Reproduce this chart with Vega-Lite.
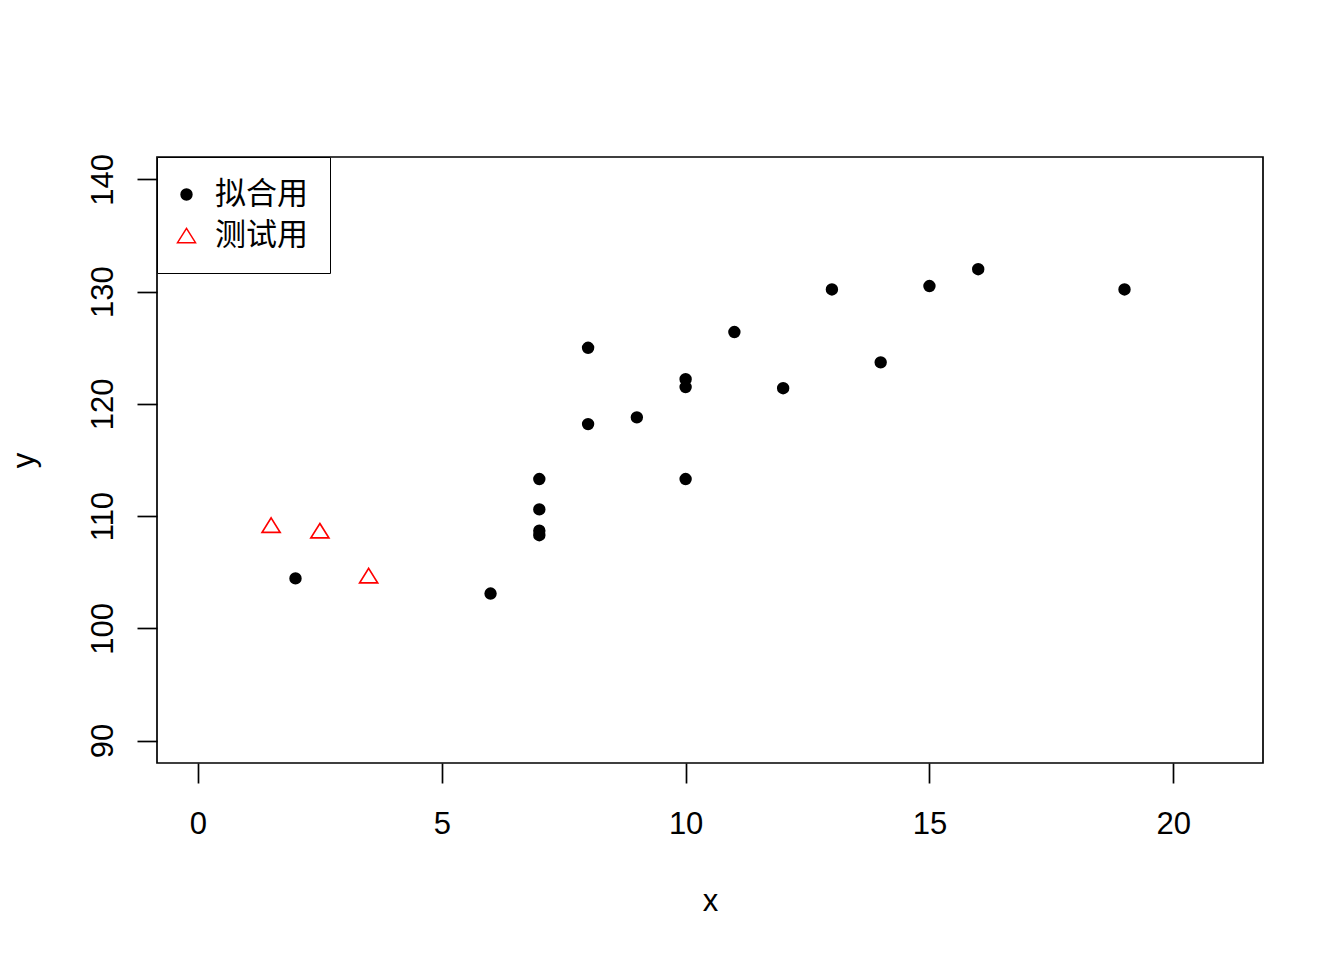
{
  "$schema": "https://vega.github.io/schema/vega-lite/v6.json",
  "width": 1106,
  "height": 606,
  "autosize": {"type": "none"},
  "padding": {"left": 157, "top": 157, "right": 81, "bottom": 197},
  "background": "white",
  "config": {
    "view": {"stroke": "black", "strokeWidth": 1.7},
    "axis": {
      "domain": false,
      "grid": false,
      "tickColor": "black",
      "tickWidth": 1.7,
      "tickSize": 20,
      "labelFont": "Liberation Sans",
      "labelFontSize": 31,
      "labelColor": "black",
      "titleFont": "Liberation Sans",
      "titleFontSize": 31,
      "titleFontWeight": "normal",
      "titleColor": "black"
    }
  },
  "data": {
    "values": [
      {"x": 2, "y": 104.45, "g": "拟合用"},
      {"x": 6, "y": 103.1, "g": "拟合用"},
      {"x": 7, "y": 113.3, "g": "拟合用"},
      {"x": 7, "y": 110.6, "g": "拟合用"},
      {"x": 7, "y": 108.7, "g": "拟合用"},
      {"x": 7, "y": 108.3, "g": "拟合用"},
      {"x": 8, "y": 125.0, "g": "拟合用"},
      {"x": 8, "y": 118.2, "g": "拟合用"},
      {"x": 9, "y": 118.8, "g": "拟合用"},
      {"x": 10, "y": 122.2, "g": "拟合用"},
      {"x": 10, "y": 121.5, "g": "拟合用"},
      {"x": 10, "y": 113.3, "g": "拟合用"},
      {"x": 11, "y": 126.4, "g": "拟合用"},
      {"x": 12, "y": 121.4, "g": "拟合用"},
      {"x": 13, "y": 130.2, "g": "拟合用"},
      {"x": 14, "y": 123.7, "g": "拟合用"},
      {"x": 15, "y": 130.5, "g": "拟合用"},
      {"x": 16, "y": 132.0, "g": "拟合用"},
      {"x": 19, "y": 130.2, "g": "拟合用"},
      {"x": 1.5, "y": 109.2, "g": "测试用"},
      {"x": 2.5, "y": 108.7, "g": "测试用"},
      {"x": 3.5, "y": 104.7, "g": "测试用"}
    ]
  },
  "mark": {"type": "point", "strokeWidth": 1.7, "opacity": 1, "clip": true},
  "encoding": {
    "x": {
      "field": "x",
      "type": "quantitative",
      "scale": {"domain": [-0.84, 21.84], "nice": false, "zero": false},
      "axis": {"values": [0, 5, 10, 15, 20], "labelPadding": 26, "titlePadding": 47, "title": "x"}
    },
    "y": {
      "field": "y",
      "type": "quantitative",
      "scale": {"domain": [88, 142], "nice": false, "zero": false},
      "axis": {"values": [90, 100, 110, 120, 130, 140], "labelAngle": 270, "labelPadding": 18, "titlePadding": 47, "title": "y"}
    },
    "shape": {
      "field": "g",
      "type": "nominal",
      "scale": {"domain": ["拟合用", "测试用"], "range": ["circle", "M0,-0.8L1,0.8L-1,0.8Z"]},
      "legend": {
        "title": null,
        "orient": "top-left",
        "offset": 0,
        "padding": 22,
        "strokeColor": "black",
        "fillColor": "white",
        "labelFont": "Noto Sans CJK SC",
        "labelFontSize": 31,
        "labelColor": "black",
        "labelOffset": 13,
        "symbolOffset": -8,
        "rowPadding": 9
      }
    },
    "fill": {
      "field": "g",
      "type": "nominal",
      "scale": {"domain": ["拟合用", "测试用"], "range": ["black", "transparent"]}
    },
    "stroke": {
      "field": "g",
      "type": "nominal",
      "scale": {"domain": ["拟合用", "测试用"], "range": ["transparent", "red"]}
    },
    "size": {
      "field": "g",
      "type": "nominal",
      "scale": {"domain": ["拟合用", "测试用"], "range": [154, 324]}
    }
  }
}
